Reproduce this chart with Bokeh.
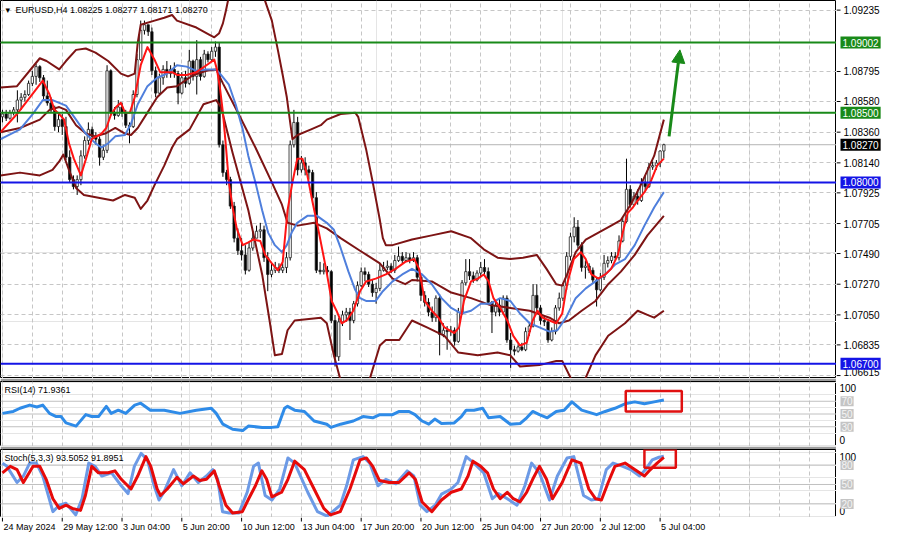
from bokeh.plotting import figure
from bokeh.layouts import column, row
from bokeh.models import (Range1d, FixedTicker, Grid, Label, Arrow,
                          NormalHead, BoxAnnotation, ColumnDataSource)
from bokeh.core.properties import value
from bokeh.embed import file_html
from bokeh.resources import INLINE

FONT = "Liberation Sans"

# ---------------- data (EURUSD H4) ----------------
first_open = 1.0847
close = [1.0849,1.0846,1.0850,1.0852,1.0859,1.0861,1.0863,1.0871,1.0876,1.0883,
         1.0875,1.0862,1.0857,1.0852,1.0840,1.0845,1.0840,1.0818,1.0802,1.0797,
         1.0802,1.0819,1.0830,1.0838,1.0833,1.0831,1.0818,1.0823,1.0880,1.0850,
         1.0848,1.0854,1.0850,1.0841,1.0840,1.0863,1.0888,1.0909,1.0913,1.0908,
         1.0880,1.0864,1.0875,1.0881,1.0878,1.0881,1.0878,1.0864,1.0875,1.0871,
         1.0887,1.0876,1.0888,1.0876,1.0892,1.0888,1.0894,1.0897,1.0827,1.0807,
         1.0802,1.0783,1.0760,1.0751,1.0748,1.0737,1.0753,1.0760,1.0765,1.0766,
         1.0746,1.0734,1.0737,1.0739,1.0737,1.0739,1.0746,1.0827,1.0843,1.0809,
         1.0814,1.0809,1.0807,1.0789,1.0737,1.0736,1.0737,1.0736,1.0701,1.0675,
         1.0700,1.0705,1.0707,1.0701,1.0713,1.0726,1.0736,1.0734,1.0727,1.0721,
         1.0724,1.0737,1.0739,1.0740,1.0737,1.0744,1.0747,1.0744,1.0746,1.0744,
         1.0746,1.0732,1.0719,1.0714,1.0707,1.0703,1.0717,1.0691,1.0694,1.0693,
         1.0694,1.0686,1.0707,1.0728,1.0736,1.0733,1.0730,1.0735,1.0739,1.0736,
         1.0714,1.0707,1.0712,1.0707,1.0717,1.0687,1.0680,1.0679,1.0682,1.0680,
         1.0693,1.0697,1.0719,1.0710,1.0701,1.0700,1.0687,1.0693,1.0710,1.0717,
         1.0726,1.0747,1.0761,1.0768,1.0755,1.0739,1.0740,1.0737,1.0730,1.0723,
         1.0732,1.0742,1.0744,1.0747,1.0746,1.0758,1.0772,1.0795,1.0784,1.0790,
         1.0787,1.0800,1.0797,1.0811,1.0812,1.0814,1.08225,1.08270]
high = [1.0852,1.0852,1.0852,1.0854,1.0866,1.0864,1.0866,1.0873,1.0880,1.0885,
        1.0884,1.0877,1.0873,1.0861,1.0855,1.0850,1.0849,1.0847,1.0823,1.0805,
        1.0805,1.0823,1.0833,1.0843,1.0840,1.0836,1.0833,1.0827,1.0884,1.0881,
        1.0854,1.0859,1.0857,1.0852,1.0843,1.0866,1.0892,1.0916,1.0916,1.0913,
        1.0911,1.0883,1.0878,1.0884,1.0887,1.0884,1.0886,1.0880,1.0879,1.0880,
        1.0895,1.0888,1.0902,1.0890,1.0895,1.0894,1.0897,1.0901,1.0900,1.0830,
        1.0809,1.0804,1.0786,1.0767,1.0760,1.0755,1.0757,1.0765,1.0769,1.0771,
        1.0769,1.0750,1.0742,1.0743,1.0742,1.0742,1.0750,1.0830,1.0852,1.0847,
        1.0819,1.0818,1.0812,1.0809,1.0793,1.0743,1.0742,1.0740,1.0737,1.0705,
        1.0703,1.0708,1.0710,1.0710,1.0715,1.0729,1.0739,1.0739,1.0736,1.0730,
        1.0728,1.0742,1.0743,1.0744,1.0742,1.0748,1.0754,1.0750,1.0750,1.0749,
        1.0750,1.0748,1.0735,1.0722,1.0717,1.0711,1.0719,1.0720,1.0699,1.0697,
        1.0697,1.0696,1.0710,1.0730,1.0745,1.0745,1.0736,1.0737,1.0743,1.0745,
        1.0739,1.0715,1.0715,1.0717,1.0719,1.0719,1.0692,1.0683,1.0684,1.0685,
        1.0696,1.0700,1.0727,1.0727,1.0712,1.0704,1.0701,1.0696,1.0712,1.0721,
        1.0728,1.0750,1.0764,1.0775,1.0773,1.0757,1.0744,1.0742,1.0739,1.0732,
        1.0735,1.0748,1.0747,1.0750,1.0750,1.0762,1.0775,1.0817,1.0798,1.0793,
        1.0795,1.0803,1.0805,1.0814,1.0815,1.0816,1.0823,1.08277]
low = [1.0843,1.0844,1.0845,1.0848,1.0843,1.0852,1.0858,1.0862,1.0869,1.0870,
       1.0872,1.0859,1.0855,1.0850,1.0837,1.0836,1.0834,1.0816,1.0800,1.0795,
       1.0791,1.0798,1.0817,1.0827,1.0830,1.0827,1.0812,1.0816,1.0821,1.0848,
       1.0845,1.0847,1.0847,1.0839,1.0828,1.0839,1.0861,1.0887,1.0906,1.0905,
       1.0877,1.0861,1.0862,1.0870,1.0875,1.0875,1.0875,1.0856,1.0863,1.0868,
       1.0870,1.0873,1.0863,1.0873,1.0875,1.0886,1.0887,1.0890,1.0825,1.0804,
       1.0798,1.0781,1.0757,1.0748,1.0744,1.0734,1.0736,1.0751,1.0760,1.0760,
       1.0743,1.0722,1.0732,1.0735,1.0735,1.0735,1.0735,1.0744,1.0825,1.0805,
       1.0807,1.0805,1.0802,1.0784,1.0735,1.0734,1.0734,1.0733,1.0699,1.0668,
       1.0672,1.0697,1.0700,1.0687,1.0699,1.0711,1.0725,1.0729,1.0725,1.0718,
       1.0713,1.0722,1.0736,1.0737,1.0735,1.0735,1.0743,1.0742,1.0743,1.0742,
       1.0743,1.0729,1.0715,1.0711,1.0704,1.0700,1.0700,1.0676,1.0689,1.0680,
       1.0690,1.0683,1.0685,1.0705,1.0726,1.0730,1.0728,1.0729,1.0732,1.0734,
       1.0712,1.0692,1.0704,1.0704,1.0705,1.0685,1.0667,1.0676,1.0678,1.0679,
       1.0679,1.0690,1.0696,1.0707,1.0698,1.0697,1.0685,1.0686,1.0691,1.0708,
       1.0715,1.0723,1.0744,1.0757,1.0753,1.0736,1.0731,1.0735,1.0728,1.0711,
       1.0722,1.0730,1.0739,1.0742,1.0744,1.0744,1.0757,1.0771,1.0782,1.0783,
       1.0784,1.0786,1.0794,1.0796,1.0809,1.0809,1.0811,1.08171]

# fast moving average (red), read at bar positions
ma_fast_x = [-0.5,3.9,10.8,12.6,13.9,15.2,16.5,17.8,19.1,21.0,
             22.6,23.9,25.2,26.5,27.8,29.1,30.4,31.7,32.8,34.1,
             35.4,37.0,38.8,40.7,42.2,44.1,45.4,46.7,49.3,51.9,
             54.6,56.7,57.4,58.2,59.0,59.8,60.6,61.6,62.7,64.3,
             65.8,67.1,69.0,70.3,72.1,73.7,75.0,76.3,77.6,78.9,
             80.3,81.6,82.9,84.7,86.6,88.1,89.4,90.8,92.1,93.9,
             95.7,97.3,99.9,102.6,105.2,107.8,110.2,111.5,113.0,114.9,
             116.7,118.3,120.9,122.2,123.5,125.4,127.2,128.8,130.1,131.4,
             133.2,135.1,136.7,138.5,140.3,141.9,143.2,144.5,146.4,148.2,
             149.8,151.1,152.9,154.8,156.1,157.6,159.5,161.3,162.9,164.7,
             166.0,167.3,168.7,170.0,171.8,173.4,175.2,177.0]
ma_fast = [1.0836,1.0849,1.0873,1.0863,1.0852,1.0849,1.0845,1.0828,1.0817,1.0805,
           1.0819,1.0831,1.0833,1.0835,1.0839,1.0849,1.0854,1.0857,1.0850,1.0850,
           1.0861,1.0884,1.0897,1.0888,1.0879,1.0879,1.0879,1.0877,1.0877,1.0879,
           1.0884,1.0888,1.0881,1.0868,1.0850,1.0826,1.0800,1.0782,1.0767,1.0755,
           1.0757,1.0759,1.0758,1.0748,1.0742,1.0737,1.0743,1.0780,1.0800,1.0817,
           1.0817,1.0805,1.0787,1.0764,1.0738,1.0715,1.0708,1.0699,1.0701,1.0708,
           1.0722,1.0729,1.0731,1.0734,1.0738,1.0743,1.0745,1.0738,1.0715,1.0708,
           1.0703,1.0696,1.0692,1.0696,1.0715,1.0729,1.0731,1.0734,1.0729,1.0717,
           1.0710,1.0701,1.0690,1.0683,1.0685,1.0701,1.0708,1.0703,1.0701,1.0699,
           1.0706,1.0727,1.0745,1.0750,1.0745,1.0734,1.0731,1.0734,1.0738,1.0748,
           1.0764,1.0778,1.0782,1.0787,1.0793,1.0800,1.0812,1.0817]

# slower moving average (blue)
ma_slow_x = [-0.5,4.7,8.1,10.8,13.4,17.0,19.7,22.3,24.9,26.5,
             28.3,30.2,32.8,34.4,36.2,38.8,41.4,44.1,46.7,49.3,
             51.9,54.6,57.2,58.5,60.6,62.4,64.3,65.8,67.7,69.5,
             71.1,72.9,74.8,76.1,77.4,78.9,81.6,84.2,86.8,88.7,
             90.5,92.6,94.4,95.7,97.3,99.9,101.8,104.4,107.0,109.6,
             112.3,114.9,117.5,120.1,122.8,125.4,128.0,130.6,133.2,135.9,
             138.5,141.1,143.7,146.4,148.5,150.8,153.4,156.1,158.7,161.3,
             163.9,166.6,169.2,171.8,174.4,177.0]
ma_slow = [1.0831,1.0838,1.0849,1.0859,1.0859,1.0855,1.0845,1.0835,1.0828,1.0825,
           1.0828,1.0833,1.0834,1.0842,1.0856,1.0869,1.0875,1.0878,1.0884,1.0883,
           1.0880,1.0881,1.0881,1.0877,1.0870,1.0856,1.0838,1.0819,1.0800,1.0780,
           1.0764,1.0755,1.0750,1.0755,1.0764,1.0771,1.0776,1.0776,1.0771,1.0766,
           1.0753,1.0736,1.0723,1.0717,1.0715,1.0715,1.0722,1.0729,1.0734,1.0738,
           1.0734,1.0727,1.0717,1.0710,1.0706,1.0708,1.0713,1.0713,1.0717,1.0715,
           1.0706,1.0699,1.0696,1.0693,1.0694,1.0703,1.0717,1.0724,1.0729,1.0734,
           1.0741,1.0745,1.0755,1.0769,1.0782,1.0793]

# Bollinger bands (dark red)
bb_up_x = [-0.5,3.9,10.0,11.8,15.2,17.0,19.7,22.3,24.9,28.3,
           31.7,33.6,35.4,36.2,37.0,40.7,43.3,45.4,46.7,51.9,
           55.3,56.7,58.0,59.0,59.8,61.1,63.7,66.4,69.0,70.3,
           72.1,73.7,75.0,76.1,76.9,77.6,79.0,82.6,85.2,86.8,
           90.5,94.4,95.2,97.3,99.1,101.0,101.8,102.6,104.4,109.6,
           114.9,120.1,125.4,128.8,132.5,135.9,139.3,143.0,145.6,148.2,
           149.8,151.1,153.4,156.1,159.5,162.9,165.5,168.1,170.8,174.4,
           177.0]
bb_up = [1.0868,1.0869,1.0889,1.0887,1.0881,1.0887,1.0895,1.0896,1.0893,1.0887,
         1.0878,1.0876,1.0878,1.0900,1.0913,1.0916,1.0918,1.0920,1.0916,1.0911,
         1.0906,1.0904,1.0907,1.0914,1.0923,1.0940,1.0961,1.0965,1.0947,1.0930,
         1.0916,1.0895,1.0877,1.0861,1.0845,1.0831,1.0834,1.0838,1.0841,1.0845,
         1.0849,1.0850,1.0847,1.0824,1.0800,1.0773,1.0760,1.0755,1.0755,1.0759,
         1.0762,1.0765,1.0760,1.0752,1.0746,1.0745,1.0746,1.0748,1.0738,1.0727,
         1.0726,1.0734,1.0750,1.0759,1.0764,1.0769,1.0773,1.0784,1.0798,1.0819,
         1.0845]
bb_mid_x = [-0.5,4.7,10.0,12.6,15.2,17.0,19.7,22.3,24.9,27.5,
            30.2,32.8,34.4,36.2,38.8,41.4,44.1,46.7,51.1,54.6,
            57.2,59.0,63.2,67.7,72.1,74.8,76.3,79.0,83.4,86.8,
            90.5,95.7,101.0,104.4,107.8,109.6,114.9,120.1,125.4,130.6,
            135.9,141.1,146.4,149.0,151.6,155.0,158.7,162.1,165.5,169.2,
            172.6,177.0]
bb_mid = [1.0836,1.0839,1.0845,1.0852,1.0854,1.0852,1.0841,1.0835,1.0833,1.0835,
          1.0839,1.0835,1.0834,1.0839,1.0850,1.0861,1.0868,1.0869,1.0877,1.0880,
          1.0881,1.0871,1.0849,1.0825,1.0800,1.0784,1.0771,1.0769,1.0771,1.0767,
          1.0760,1.0751,1.0742,1.0731,1.0727,1.0730,1.0729,1.0721,1.0717,1.0712,
          1.0710,1.0708,1.0703,1.0699,1.0701,1.0708,1.0715,1.0727,1.0736,1.0748,
          1.0762,1.0776]
bb_lo_x = [-0.5,4.7,10.0,13.4,15.2,16.3,17.8,19.7,21.8,25.7,
           29.6,32.8,35.4,37.0,38.8,40.7,43.3,45.4,46.7,50.1,
           53.8,57.2,58.5,61.6,65.8,69.5,71.6,72.9,74.8,76.3,
           78.2,85.2,86.8,88.7,90.5,92.6,95.2,97.0,98.4,101.0,
           102.6,106.2,109.6,113.6,118.3,122.0,127.2,132.5,135.9,138.5,
           143.7,148.2,149.8,152.4,154.2,156.1,158.7,162.1,166.6,170.0,
           172.6,174.4,177.0]
bb_lo = [1.0805,1.0807,1.0805,1.0809,1.0815,1.0820,1.0809,1.0796,1.0791,1.0789,
         1.0787,1.0791,1.0789,1.0781,1.0787,1.0798,1.0812,1.0825,1.0831,1.0838,
         1.0856,1.0859,1.0854,1.0821,1.0780,1.0734,1.0699,1.0676,1.0677,1.0694,
         1.0701,1.0703,1.0699,1.0676,1.0658,1.0646,1.0646,1.0653,1.0660,1.0683,
         1.0687,1.0687,1.0701,1.0696,1.0690,1.0678,1.0676,1.0678,1.0676,1.0668,
         1.0669,1.0672,1.0672,1.0658,1.0653,1.0660,1.0676,1.0690,1.0699,1.0708,
         1.0705,1.0703,1.0708]

# RSI(14)
rsi_x = [0,2.9,4.7,7.3,9.2,10.8,12.6,14.4,15.7,17.0,
         19.7,22.3,23.9,25.7,27.8,29.1,31.0,33.0,35.4,37.0,
         39.6,43.3,47.5,51.9,55.9,57.2,59.0,61.6,64.3,65.8,
         69.5,72.1,73.7,75.5,76.3,78.2,80.8,83.4,86.8,87.9,
         90.5,93.9,96.5,99.1,101.0,104.4,106.2,108.8,110.4,112.3,
         114.1,115.7,117.5,120.9,122.8,124.1,126.2,128.5,130.1,133.2,
         135.9,138.5,140.3,141.9,143.7,145.8,148.2,150.3,152.4,155.0,
         159.0,161.3,163.9,166.6,169.2,171.8,174.4,177.0]
rsi = [51,54,59,64,61,64,51,46,46,36,
       31,49,46,46,62,51,56,51,64,67,
       56,56,51,56,59,51,34,26,24,31,
       29,29,30,59,62,56,54,39,34,29,
       34,39,46,44,49,49,54,54,49,39,
       34,42,35,36,46,56,56,59,44,46,
       34,35,44,54,49,44,54,56,69,56,
       49,54,59,66,69,66,69,71.9361]

# Stochastic(5,3,3): main (blue) and signal (red)
stoch_main_x = [0,1.2,3.9,5.6,7.3,9.1,10.8,13.5,15.2,17.0,
                19.6,21.3,23.1,24.8,26.6,29.2,31.8,33.6,35.3,37.1,
                38.8,40.6,41.9,43.2,45.8,48.0,50.2,52.4,54.6,56.3,
                57.6,58.9,60.7,63.3,65.5,67.2,68.5,70.3,72.1,74.2,
                76.4,78.2,81.7,84.3,86.9,90.4,92.1,93.9,96.5,98.3,
                100.5,102.6,105.3,108.3,110.1,111.8,113.6,115.8,117.5,120.1,
                121.9,124.1,126.2,128.8,131.1,132.7,135.1,137.7,139.8,141.6,
                143.7,146.4,148.5,151.1,152.9,155.5,157.6,159.5,161.6,163.4,
                166.0,168.1,170.5,172.1,173.9,175.7,177.0]
stoch_main = [83,78,53,63,83,83,63,8,18,21,
              3,28,83,78,63,68,48,36,78,98,
              88,48,26,38,73,48,68,53,63,73,
              58,8,6,6,38,78,83,33,26,43,
              91,83,38,8,1,18,48,88,93,83,
              48,58,51,71,63,18,8,18,35,43,
              53,93,83,68,28,36,28,18,48,83,
              68,26,63,91,93,33,26,28,73,83,
              78,73,63,73,88,92,93.5052]
stoch_sig_x = [0,2.1,3.9,5.6,8.2,10.0,11.7,13.5,15.2,17.0,
               18.7,20.9,22.2,23.9,25.7,28.3,30.1,31.8,34.4,36.2,
               38.4,39.7,41.4,42.3,44.1,46.7,48.4,51.1,52.8,54.6,
               56.7,58.0,59.8,61.6,64.2,65.9,67.7,69.4,70.7,72.1,
               74.7,76.4,78.2,80.8,83.4,86.0,87.8,90.4,93.0,95.7,
               97.4,99.1,100.9,103.5,106.1,108.8,110.5,112.3,114.9,117.5,
               120.1,122.8,124.6,125.9,128.0,129.8,131.4,133.2,135.1,136.7,
               138.5,140.3,141.9,143.7,145.6,147.2,149.8,152.4,154.8,156.9,
               158.7,160.3,162.1,163.9,166.6,169.2,171.8,173.4,175.2,177.0]
stoch_sig = [68,78,73,53,78,78,58,28,13,18,
             13,10,33,78,68,68,71,58,43,63,
             93,78,43,33,43,61,51,63,56,58,
             71,48,18,6,8,28,48,71,58,31,
             38,58,86,73,43,13,3,8,43,88,
             91,78,56,53,53,68,58,23,8,26,
             38,43,63,86,78,68,43,28,38,28,
             23,38,58,78,58,28,53,88,83,43,
             28,26,53,78,83,73,63,73,83,91.8951]

price_ticks = [1.09235,1.08795,1.08580,1.08360,1.08140,1.07925,
               1.07705,1.07490,1.07270,1.07050,1.06835,1.06615]
green_levels = [1.09002, 1.08500]
blue_levels = [1.08000, 1.06700]
bid_price = 1.08270
time_ticks = [0,16,32,48,64,80,96,112,128,144,160,176]
time_labels = ["24 May 2024","29 May 12:00","3 Jun 04:00","5 Jun 20:00",
               "10 Jun 12:00","13 Jun 04:00","17 Jun 20:00","20 Jun 12:00",
               "25 Jun 04:00","27 Jun 20:00","2 Jul 12:00","5 Jul 04:00"]
grid_ticks = list(range(0, 224, 8))
header_text = "EURUSD,H4  1.08225 1.08277 1.08171 1.08270"
rsi_text = "RSI(14) 71.9361"
stoch_text = "Stoch(5,3,3) 93.5052 91.8951"
rsi_levels = [70, 50, 30]
stoch_levels = [80, 50, 20]
arrow_from = (178.4, 1.0833)
arrow_to = (181.3, 1.0895)
rsi_box = (166.8, 181.8, 54, 86)
stoch_box = (171.8, 180.2, 76, 104)

# ---------------- styling / layout ----------------
DARKRED = "#7d1414"
GREEN = "#198a19"
BLUE = "#1414e6"
GRIDC = "#c6c6c6"
SEP = "#9c9c9c"
X0, X1 = -0.52, 223.2
Y0, Y1 = 1.06594, 1.09304
CW, SW = 836, 48          # chart width, side (price scale) width
H_MAIN, H_RSI, H_STO, H_AX = 378, 65, 68, 20
GAP = 3
SMALL = "9px"

n = len(close)
bars = list(range(n))
opens = [first_open] + close[:-1]
top = [max(o, c) for o, c in zip(opens, close)]
bot = [min(o, c) for o, c in zip(opens, close)]
hi = [max(h, t) for h, t in zip(high, top)]
lo = [min(l, b) for l, b in zip(low, bot)]
fill = ["#ffffff" if c >= o else "#000000" for o, c in zip(opens, close)]
src = ColumnDataSource(dict(x=bars, top=top, bot=bot, hi=hi, lo=lo, fill=fill))


def chart(h, y_range, x_range=None, gap=0):
    f = figure(frame_width=CW, frame_height=h,
               x_range=x_range if x_range is not None else Range1d(X0, X1),
               y_range=y_range, output_backend="svg", toolbar_location=None,
               x_axis_location=None, y_axis_location=None,
               min_border_left=0, min_border_right=0, min_border_top=gap,
               min_border_bottom=0)
    f.outline_line_color = "#000000"
    f.outline_line_width = 1
    f.background_fill_color = "#ffffff"
    f.border_fill_color = SEP
    f.add_layout(Grid(dimension=0, ticker=FixedTicker(ticks=grid_ticks),
                      grid_line_color=GRIDC, grid_line_dash="4 3"))
    return f


def side(h, y_range, gap=0):
    f = figure(frame_width=SW, frame_height=h, x_range=Range1d(0, SW),
               y_range=y_range, output_backend="svg", toolbar_location=None,
               x_axis_location=None, y_axis_location=None,
               min_border_left=0, min_border_right=0, min_border_top=gap,
               min_border_bottom=0)
    f.outline_line_color = None
    f.background_fill_color = "#ffffff"
    f.border_fill_color = "#ffffff"
    f.grid.visible = False
    return f


def txt(x, y, text, **kw):
    d = dict(x=x, y=y, text=text, text_font=FONT, text_font_size="10px",
             text_color="#000000", text_baseline="middle", text_align="left")
    d.update(kw)
    return Label(**d)


# ---------------- main price panel ----------------
p = chart(H_MAIN, Range1d(Y0, Y1))
p.add_layout(Grid(dimension=1, ticker=FixedTicker(ticks=price_ticks),
                  grid_line_color=GRIDC, grid_line_dash="4 3"))
p.segment(x0=[X0], y0=[bid_price], x1=[X1], y1=[bid_price], line_color="#b4b4b4", line_width=1)

p.segment(x0="x", y0="lo", x1="x", y1="hi", source=src, line_color="#000000", line_width=1)
p.vbar(x="x", width=0.62, top="top", bottom="bot", source=src,
       fill_color="fill", line_color="#1e1e1e", line_width=0.8)

for xs, ys in ((bb_up_x, bb_up), (bb_mid_x, bb_mid), (bb_lo_x, bb_lo)):
    p.line(xs, ys, line_color=DARKRED, line_width=2, line_join="round")
p.line(ma_slow_x, ma_slow, line_color="#4f7fdc", line_width=2, line_join="round")
p.line(ma_fast_x, ma_fast, line_color="#ff1414", line_width=2, line_join="round")

p.segment(x0=[X0] * 2, y0=green_levels, x1=[X1] * 2, y1=green_levels,
          line_color=GREEN, line_width=2)
p.segment(x0=[X0] * 2, y0=blue_levels, x1=[X1] * 2, y1=blue_levels,
          line_color=BLUE, line_width=2)

p.add_layout(Arrow(end=NormalHead(size=13, fill_color=GREEN, line_color=GREEN),
                   x_start=arrow_from[0], y_start=arrow_from[1],
                   x_end=arrow_to[0], y_end=arrow_to[1],
                   line_color=GREEN, line_width=3))
p.add_layout(txt(X0, Y1, "\u25BE", x_offset=5, y_offset=-4, text_font="DejaVu Sans",
                 text_font_size=SMALL, text_baseline="top"))
p.add_layout(txt(X0, Y1, header_text, x_offset=15, y_offset=-4,
                 text_font_size=SMALL, text_baseline="top"))

# price scale
ps = side(H_MAIN, p.y_range)
upp = (Y1 - Y0) / H_MAIN
ps.segment(x0=[0] * len(price_ticks), y0=price_ticks, x1=[4] * len(price_ticks),
           y1=price_ticks, line_color="#000000", line_width=1)
ps.text(x=[7] * len(price_ticks), y=[max(t, Y0 + 6.5 * upp) for t in price_ticks],
        text=[f"{t:.5f}" for t in price_ticks], text_font=value(FONT),
        text_font_size="10px", text_color="#000000", text_baseline="middle")
for lv, bg in ((green_levels[0], GREEN), (green_levels[1], GREEN),
               (bid_price, "#000000"), (blue_levels[0], BLUE), (blue_levels[1], BLUE)):
    ps.add_layout(txt(4, lv, f"{lv:.5f}", text_color="#ffffff",
                      background_fill_color=bg, padding=2))

# ---------------- RSI panel ----------------
r = chart(H_RSI, Range1d(-1, 101), x_range=p.x_range, gap=GAP)
r.segment(x0=[X0] * 3, y0=rsi_levels, x1=[X1] * 3, y1=rsi_levels,
          line_color="#c0c0c0", line_width=1)
r.line(rsi_x, rsi, line_color="#2e8be8", line_width=3, line_join="round")
r.add_layout(BoxAnnotation(left=rsi_box[0], right=rsi_box[1], bottom=rsi_box[2],
                           top=rsi_box[3], fill_color=None, fill_alpha=0,
                           line_color="#e01010", line_alpha=1, line_width=2.5))
r.add_layout(txt(X0, 101, rsi_text, x_offset=4, y_offset=-3,
                 text_font_size=SMALL, text_baseline="top"))

rs = side(H_RSI, r.y_range, gap=GAP)
rupp = 102 / H_RSI
rs.add_layout(txt(3, 101 - 6.5 * rupp, "100"))
rs.add_layout(txt(3, -1 + 6.5 * rupp, "0"))
for lv in rsi_levels:
    rs.add_layout(txt(4, lv, str(lv), text_color="#f4f4f4",
                      background_fill_color="#c4c4c4", padding=1))

# ---------------- Stochastic panel ----------------
s = chart(H_STO, Range1d(-1, 104), x_range=p.x_range, gap=GAP)
s.segment(x0=[X0] * 3, y0=stoch_levels, x1=[X1] * 3, y1=stoch_levels,
          line_color="#c0c0c0", line_width=1)
s.line(stoch_main_x, stoch_main, line_color="#6c9ae6", line_width=3, line_join="round")
s.line(stoch_sig_x, stoch_sig, line_color="#e60a0a", line_width=3, line_join="round")
s.add_layout(BoxAnnotation(left=stoch_box[0], right=stoch_box[1], bottom=stoch_box[2],
                           top=stoch_box[3], fill_color=None, fill_alpha=0,
                           line_color="#e01010", line_alpha=1, line_width=2.5))
s.add_layout(txt(X0, 104, stoch_text, x_offset=4, y_offset=-3,
                 text_font_size=SMALL, text_baseline="top"))

ss = side(H_STO, s.y_range, gap=GAP)
supp = 105 / H_STO
ss.add_layout(txt(3, 104 - 7 * supp, "100"))
ss.add_layout(txt(3, -1 + 6.5 * supp, "0"))
for lv in stoch_levels:
    ss.add_layout(txt(4, lv, str(lv), text_color="#f4f4f4",
                      background_fill_color="#c4c4c4", padding=1))

# ---------------- time axis ----------------
ta = figure(frame_width=CW, frame_height=H_AX, x_range=p.x_range,
            y_range=Range1d(0, H_AX), output_backend="svg", toolbar_location=None,
            x_axis_location=None, y_axis_location=None,
            min_border_left=0, min_border_right=0, min_border_top=0,
            min_border_bottom=0)
ta.outline_line_color = None
ta.grid.visible = False
ta.segment(x0=time_ticks, y0=[H_AX] * len(time_ticks), x1=time_ticks,
           y1=[H_AX - 4] * len(time_ticks), line_color="#000000", line_width=1)
ta.text(x=time_ticks, y=[H_AX - 4] * len(time_ticks), text=time_labels,
        x_offset=1, text_font=value(FONT), text_font_size=SMALL,
        text_color="#000000", text_baseline="top", text_align="left")

layout = column(row(p, ps), row(r, rs), row(s, ss), ta)
open("out.html", "w").write(file_html(layout, INLINE))
